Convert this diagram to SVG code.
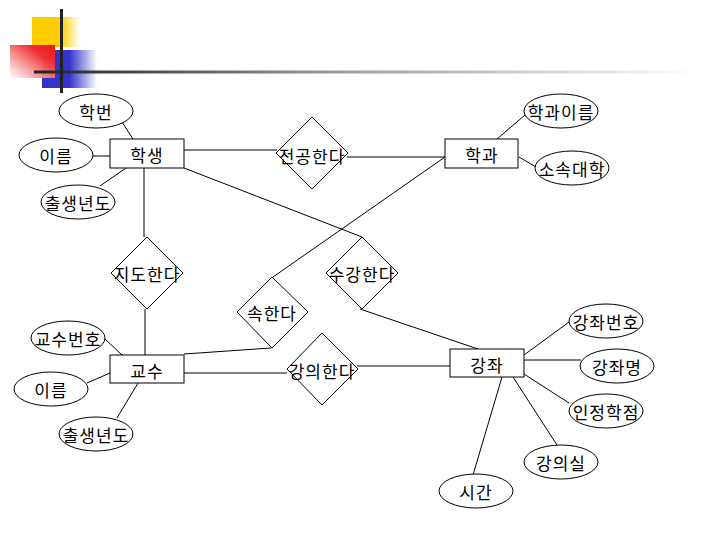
<svg xmlns="http://www.w3.org/2000/svg" width="720" height="540" viewBox="0 0 720 540">
<style>
.c line{stroke:#000;stroke-width:1}
.n rect,.n ellipse,.n polygon{fill:#fff;stroke:#000;stroke-width:1}
.n text{font-family:"Noto Sans CJK KR","Noto Sans",sans-serif;font-size:17px;letter-spacing:1px;fill:#000;text-anchor:middle;dominant-baseline:central}
</style>
<defs>
<linearGradient id="gy" x1="0" y1="0" x2="1" y2="0"><stop offset="0" stop-color="#FFCC00"/><stop offset="0.6" stop-color="#FFCC00"/><stop offset="1" stop-color="#FFCC00" stop-opacity="0"/></linearGradient>
<linearGradient id="gb" x1="0" y1="0" x2="1" y2="0"><stop offset="0" stop-color="#3333CC"/><stop offset="0.5" stop-color="#3333CC"/><stop offset="1" stop-color="#3333CC" stop-opacity="0"/></linearGradient>
<linearGradient id="gr" x1="1" y1="0" x2="0" y2="1"><stop offset="0" stop-color="#E81818"/><stop offset="0.3" stop-color="#EE3030"/><stop offset="1" stop-color="#FFFFFF" stop-opacity="0.9"/></linearGradient>
<linearGradient id="gl" x1="0" y1="0" x2="1" y2="0"><stop offset="0" stop-color="#222"/><stop offset="0.45" stop-color="#999"/><stop offset="1" stop-color="#fff"/></linearGradient>
</defs>
<g id="deco">
<rect x="32" y="17" width="48" height="30" fill="url(#gy)"/>
<rect x="42" y="50" width="55" height="38" fill="url(#gb)"/>
<rect x="10" y="45" width="45" height="33" fill="url(#gr)"/>
<rect x="34" y="70.5" width="666" height="3" fill="url(#gl)"/>
<rect x="60" y="9" width="3" height="84" fill="#222"/>
</g>
<g id="connectors" class="c">
<line x1="122" y1="122" x2="133" y2="139"/>
<line x1="93" y1="156" x2="110" y2="156"/>
<line x1="100" y1="186" x2="126" y2="168"/>
<line x1="184" y1="150" x2="277" y2="150"/>
<line x1="347" y1="157" x2="445" y2="157"/>
<line x1="497" y1="139" x2="525" y2="115"/>
<line x1="519" y1="157" x2="536" y2="167"/>
<line x1="445" y1="157" x2="273" y2="277"/>
<line x1="144" y1="168" x2="144" y2="237"/>
<line x1="145" y1="309" x2="145" y2="355"/>
<line x1="184" y1="168" x2="362" y2="237"/>
<line x1="360" y1="309" x2="478" y2="349"/>
<line x1="184" y1="354" x2="271" y2="348"/>
<line x1="104" y1="338" x2="122" y2="355"/>
<line x1="87" y1="383" x2="110" y2="373"/>
<line x1="138" y1="383" x2="117" y2="418"/>
<line x1="184" y1="373" x2="287" y2="373"/>
<line x1="357" y1="366" x2="450" y2="366"/>
<line x1="524" y1="355" x2="569" y2="322"/>
<line x1="524" y1="360" x2="581" y2="360"/>
<line x1="524" y1="374" x2="569" y2="403"/>
<line x1="513" y1="377" x2="557" y2="445"/>
<line x1="502" y1="377" x2="473" y2="475"/>
</g>
<g class="n">
<g id="student"><rect x="110" y="139" width="74" height="29"/><text x="147" y="154">학생</text></g>
<g id="dept"><rect x="445" y="139" width="73" height="29"/><text x="482" y="154">학과</text></g>
<g id="prof"><rect x="110" y="355" width="74" height="28"/><text x="147" y="370">교수</text></g>
<g id="course"><rect x="450" y="349" width="74" height="28"/><text x="487" y="364">강좌</text></g>
<g id="major"><polygon points="312,117 348,153 312,189 276,153"/><text x="312" y="155">전공한다</text></g>
<g id="advise"><polygon points="147,237 183,273 147,309 111,273"/><text x="147" y="273">지도한다</text></g>
<g id="enroll"><polygon points="362,237 398,273 362,309 326,273"/><text x="362" y="273">수강한다</text></g>
<g id="belong"><polygon points="272,277 308,312 272,348 237,312"/><text x="272" y="312">속한다</text></g>
<g id="teach"><polygon points="322,333 358,369 322,405 287,369"/><text x="322" y="370">강의한다</text></g>
<g id="a-sno"><ellipse cx="96" cy="111" rx="37" ry="17"/><text x="96" y="111">학번</text></g>
<g id="a-sname"><ellipse cx="56" cy="155" rx="37" ry="17"/><text x="56" y="155">이름</text></g>
<g id="a-sbirth"><ellipse cx="78" cy="202" rx="37" ry="17"/><text x="78" y="202">출생년도</text></g>
<g id="a-dname"><ellipse cx="561" cy="111" rx="37" ry="17"/><text x="561" y="111">학과이름</text></g>
<g id="a-college"><ellipse cx="572" cy="168" rx="37" ry="17"/><text x="572" y="168">소속대학</text></g>
<g id="a-pno"><ellipse cx="68" cy="338" rx="37" ry="17"/><text x="68" y="338">교수번호</text></g>
<g id="a-pname"><ellipse cx="51" cy="389" rx="37" ry="17"/><text x="51" y="389">이름</text></g>
<g id="a-pbirth"><ellipse cx="96" cy="434" rx="37" ry="17"/><text x="96" y="434">출생년도</text></g>
<g id="a-cno"><ellipse cx="606" cy="321" rx="37" ry="17"/><text x="606" y="321">강좌번호</text></g>
<g id="a-cname"><ellipse cx="617" cy="366" rx="37" ry="17"/><text x="617" y="366">강좌명</text></g>
<g id="a-credit"><ellipse cx="606" cy="411" rx="37" ry="17"/><text x="606" y="411">인정학점</text></g>
<g id="a-room"><ellipse cx="561" cy="462" rx="37" ry="17"/><text x="561" y="462">강의실</text></g>
<g id="a-time"><ellipse cx="476" cy="491" rx="37" ry="17"/><text x="476" y="491">시간</text></g>
</g>
</svg>
